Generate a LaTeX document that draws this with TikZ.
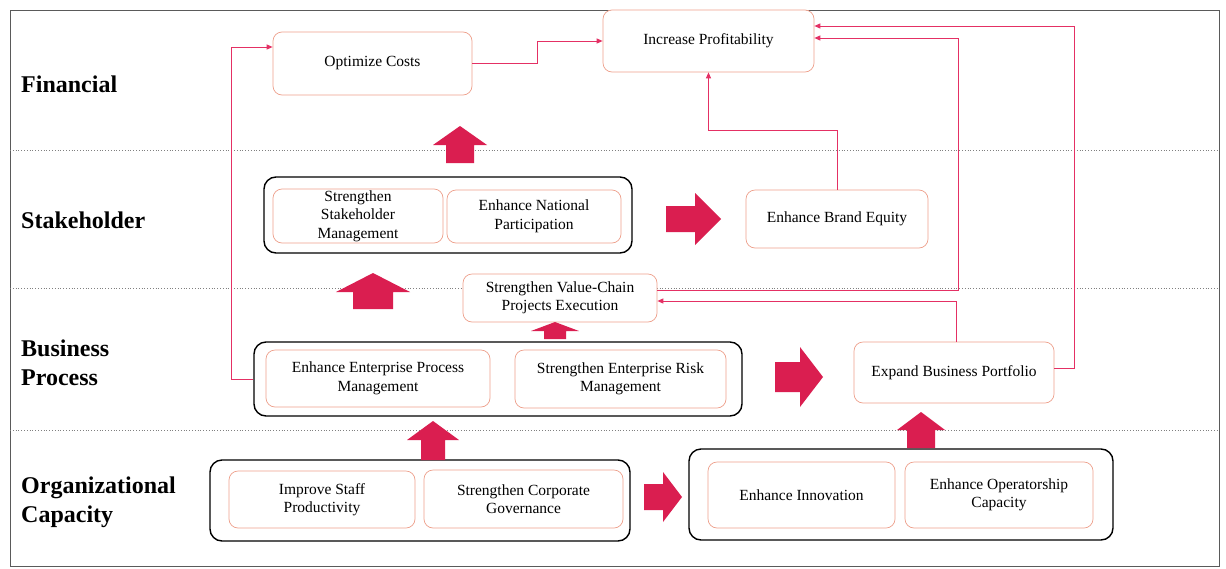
\documentclass[tikz,border=0pt]{standalone}
\usepackage{fontspec}
\setmainfont{Liberation Serif}
\usetikzlibrary{arrows.meta}

\definecolor{blockred}{RGB}{218,30,80}
\definecolor{linkred}{RGB}{228,48,100}
\definecolor{boxedge}{RGB}{238,160,140}
\definecolor{framegray}{RGB}{90,90,90}

% filled block arrows pointing up / right
\newcommand\upblock[6]{% cx, top, headbase, bottom, half head, half shaft
  \fill[blockred] ({#1-#5},#3) -- (#1,#2) -- ({#1+#5},#3) -- ({#1+#6},#3)
    -- ({#1+#6},#4) -- ({#1-#6},#4) -- ({#1-#6},#3) -- cycle;}
\newcommand\rightblock[6]{% cy, left, headbase, tip, half head, half shaft
  \fill[blockred] (#3,{#1-#5}) -- (#4,#1) -- (#3,{#1+#5}) -- (#3,{#1+#6})
    -- (#2,{#1+#6}) -- (#2,{#1-#6}) -- (#3,{#1-#6}) -- cycle;}

\begin{document}
\begin{tikzpicture}[x=1pt,y=-1pt,
  inbox/.style={draw=boxedge, line width=0.7pt, rounded corners=9pt, fill=white,
    align=center, inner sep=0pt, font=\fontsize{15.5}{18.5}\selectfont},
  group/.style={draw=black, line width=1.4pt, rounded corners=12pt, inner sep=0pt},
  lane/.style={font=\fontsize{24}{29}\selectfont\bfseries, align=left, inner sep=0pt},
  divider/.style={draw=gray, line width=0.8pt, dotted},
  link/.style={draw=linkred, line width=1pt, -{Triangle[length=6pt,width=5pt]}}]

\useasboundingbox (0,0) rectangle (1226,568);
\fill[white] (0,0) rectangle (1226,568);
\draw[framegray, line width=1pt] (10,10) rectangle (1219,566);

% lane dividers
\draw[divider] (10,150) -- (1219,150);
\draw[divider] (10,288) -- (1219,288);
\draw[divider] (10,430) -- (1219,430);

% lane titles
\node[lane, anchor=base west] (tfin) at (21,92) {Financial};
\node[lane, anchor=base west] (tsta) at (21,228) {Stakeholder};
\node[lane, anchor=west] (tbus) at (21,363) {Business\\Process};
\node[lane, anchor=west] (torg) at (21,502) {Organizational\\Capacity};

% group frames
\node[group, minimum width=368, minimum height=76] (sgrp) at (448,215) {};
\node[group, minimum width=488, minimum height=74] (bgrp) at (498,379) {};
\node[group, minimum width=420, minimum height=81] (ogrp) at (420,500.5) {};
\node[group, minimum width=424, minimum height=91] (rgrp) at (901,494.5) {};

% objectives
\node[inbox, minimum width=199, minimum height=63] (oc) at (372.5,63.5) {Optimize Costs};
\node[inbox, minimum width=211, minimum height=62] (ip) at (708.5,41) {Increase Profitability};
\node[inbox, minimum width=170, minimum height=54] (ssm) at (358,216) {Strengthen\\Stakeholder\\Management};
\node[inbox, minimum width=174, minimum height=53] (enp) at (534,216.5) {Enhance National\\Participation};
\node[inbox, minimum width=182, minimum height=58] (beq) at (837,219) {Enhance Brand Equity};
\node[inbox, minimum width=194, minimum height=48] (vc) at (560,298) {Strengthen Value-Chain\\Projects Execution};
\node[inbox, minimum width=224, minimum height=57] (eepm) at (378,378.5) {Enhance Enterprise Process\\Management};
\node[inbox, minimum width=211, minimum height=58] (serm) at (620.5,379) {Strengthen Enterprise Risk\\Management};
\node[inbox, minimum width=200, minimum height=61] (ebp) at (954,372.5) {Expand Business Portfolio};
\node[inbox, minimum width=186, minimum height=57] (isp) at (322,499.5) {Improve Staff\\Productivity};
\node[inbox, minimum width=199, minimum height=58] (scg) at (523.5,499) {Strengthen Corporate\\Governance};
\node[inbox, minimum width=187, minimum height=66] (ei) at (801.5,495) {Enhance Innovation};
\node[inbox, minimum width=188, minimum height=66] (eoc) at (999,495) {Enhance Operatorship\\Capacity};

% block arrows
\upblock{460}{126}{145}{163}{27}{14}
\upblock{373}{273}{292}{309}{37}{20}
\upblock{555}{322}{331}{339}{24}{11}
\upblock{433}{421}{440}{460}{26}{12}
\upblock{921}{412}{430}{448}{24}{14}
\rightblock{219}{666}{695}{721}{26}{13}
\rightblock{377}{775}{800}{823}{30}{15}
\rightblock{497}{644}{663}{682}{25}{13}

% thin links
\draw[link] (bgrp.west) -- ++(-22,0) |- ([yshift=16.5pt]oc.west);
\draw[link] (oc.east) -- ++(65,0) |- (ip.west);
\draw[link] (beq.north) -- ++(0,-59) -| (ip.south);
\draw[link] ([yshift=8pt]vc.east) -- ++(301,0) |- ([yshift=3pt]ip.east);
\draw[link] ([xshift=2pt]ebp.north) |- ([yshift=-3pt]vc.east);
\draw[link] ([yshift=4.5pt]ebp.east) -- ++(20,0) |- ([yshift=15pt]ip.east);
\end{tikzpicture}
\end{document}
